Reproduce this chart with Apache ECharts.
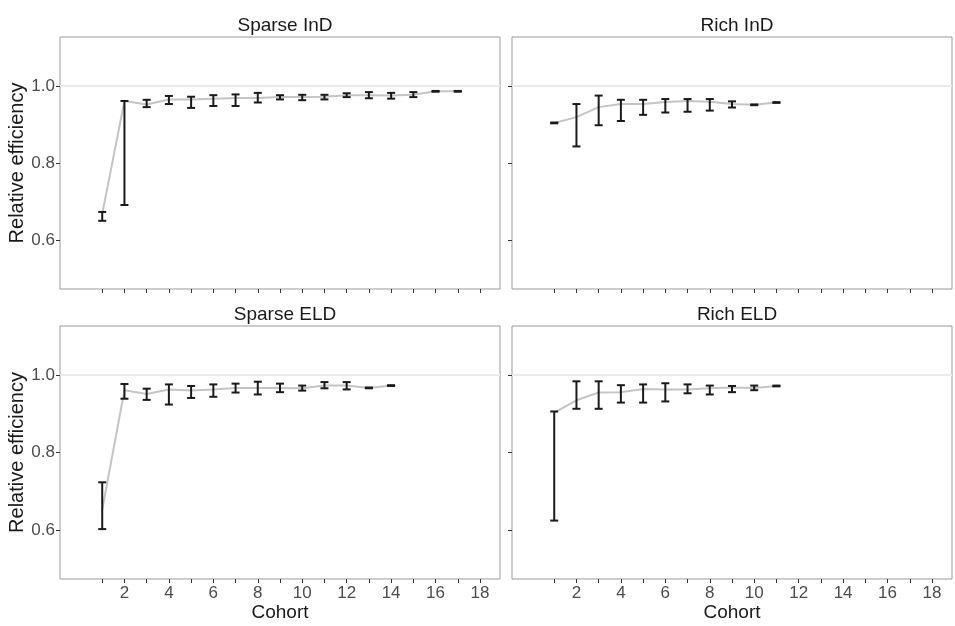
<!DOCTYPE html>
<html>
<head>
<meta charset="utf-8">
<script src="https://cdn.jsdelivr.net/npm/echarts@6/dist/echarts.min.js"></script>
<style>
html,body{margin:0;padding:0;background:#fff;}
#chart{width:955px;height:626px;}
</style>
</head>
<body>
<div id="chart"></div>
<script>
// panel titles
var panelNames = ['Sparse InD', 'Rich InD', 'Sparse ELD', 'Rich ELD'];

// Sparse InD
var sparseInDCohort = [1,2,3,4,5,6,7,8,9,10,11,12,13,14,15,16,17];
var sparseInDMed = [0.668,0.961,0.952,0.965,0.965,0.967,0.969,0.969,0.971,0.971,0.972,0.976,0.976,0.975,0.977,0.986,0.986];
var sparseInDLo  = [0.650,0.691,0.945,0.953,0.943,0.948,0.948,0.957,0.965,0.963,0.965,0.971,0.968,0.967,0.971,0.985,0.985];
var sparseInDHi  = [0.673,0.961,0.964,0.974,0.972,0.976,0.978,0.982,0.976,0.977,0.977,0.981,0.984,0.982,0.984,0.987,0.987];

// Rich InD
var richInDCohort = [1,2,3,4,5,6,7,8,9,10,11];
var richInDMed = [0.904,0.919,0.945,0.953,0.953,0.958,0.961,0.959,0.953,0.951,0.957];
var richInDLo  = [0.903,0.843,0.898,0.909,0.925,0.931,0.933,0.936,0.944,0.950,0.956];
var richInDHi  = [0.905,0.953,0.975,0.964,0.964,0.966,0.966,0.966,0.960,0.952,0.958];

// Sparse ELD
var sparseELDCohort = [1,2,3,4,5,6,7,8,9,10,11,12,13,14];
var sparseELDMed = [0.652,0.961,0.951,0.963,0.960,0.963,0.967,0.967,0.967,0.966,0.973,0.973,0.967,0.973];
var sparseELDLo  = [0.602,0.939,0.936,0.924,0.941,0.944,0.955,0.950,0.956,0.960,0.966,0.963,0.966,0.972];
var sparseELDHi  = [0.723,0.977,0.965,0.976,0.972,0.976,0.978,0.983,0.978,0.973,0.982,0.982,0.968,0.974];

// Rich ELD
var richELDCohort = [1,2,3,4,5,6,7,8,9,10,11];
var richELDMed = [0.903,0.935,0.955,0.956,0.964,0.963,0.963,0.966,0.968,0.967,0.972];
var richELDLo  = [0.624,0.913,0.913,0.929,0.929,0.932,0.953,0.950,0.956,0.961,0.971];
var richELDHi  = [0.906,0.984,0.984,0.974,0.976,0.979,0.976,0.973,0.972,0.973,0.973];

var xTicks = [1,2,3,4,5,6,7,8,9,10,11,12,13,14,15,16,17,18];
var xLabels = [2,4,6,8,10,12,14,16,18];
var yTicks = [0.6,0.8,1.0];
var refLine = 1.0;

var panels = [
  {c: sparseInDCohort, m: sparseInDMed, lo: sparseInDLo, hi: sparseInDHi},
  {c: richInDCohort, m: richInDMed, lo: richInDLo, hi: richInDHi},
  {c: sparseELDCohort, m: sparseELDMed, lo: sparseELDLo, hi: sparseELDHi},
  {c: richELDCohort, m: richELDMed, lo: richELDLo, hi: richELDHi}
];

var gridPos = [
  {left: 60, top: 37, width: 440, height: 252},
  {left: 512, top: 37, width: 440, height: 252},
  {left: 60, top: 326, width: 440, height: 253},
  {left: 512, top: 326, width: 440, height: 253}
];

var font = 'Liberation Sans, Arial, sans-serif';
var chart = echarts.init(document.getElementById('chart'));

function errBar(params, api){
  var x = api.value(0);
  var a = api.coord([x, api.value(1)]);
  var b = api.coord([x, api.value(2)]);
  var w = 4;
  var st = {stroke: '#1a1a1a', lineWidth: 2};
  return {type: 'group', children: [
    {type: 'line', shape: {x1: a[0], y1: a[1], x2: b[0], y2: b[1]}, style: st},
    {type: 'line', shape: {x1: a[0]-w, y1: a[1], x2: a[0]+w, y2: a[1]}, style: st},
    {type: 'line', shape: {x1: b[0]-w, y1: b[1], x2: b[0]+w, y2: b[1]}, style: st}
  ]};
}

var grids = [], xAxes = [], yAxes = [], series = [], titles = [];
for (var i = 0; i < 4; i++) {
  var g = gridPos[i];
  grids.push({left: g.left, top: g.top, width: g.width, height: g.height, show: true,
    borderColor: '#999999', borderWidth: 1, backgroundColor: '#fff'});
  titles.push({text: panelNames[i], left: g.left + g.width/2, top: g.top - 26, textAlign: 'center',
    textStyle: {fontFamily: font, fontSize: 19, fontWeight: 'normal', color: '#1a1a1a'}});
  var bottomRow = i >= 2;
  var leftCol = i % 2 == 0;
  xAxes.push({type: 'value', gridIndex: i, min: -0.9, max: 18.9,
    name: bottomRow ? 'Cohort' : '', nameLocation: 'middle', nameGap: 24,
    nameTextStyle: {fontFamily: font, fontSize: 19, color: '#1a1a1a'},
    axisLine: {show: false, onZero: false}, splitLine: {show: false},
    axisTick: {show: true, length: 4, customValues: xTicks, lineStyle: {color: '#333', width: 1}},
    axisLabel: {show: bottomRow, customValues: xLabels, margin: 6,
      fontFamily: font, fontSize: 17, color: '#4d4d4d'}
  });
  yAxes.push({type: 'value', gridIndex: i, min: 0.473, max: 1.127,
    name: leftCol ? 'Relative efficiency' : '', nameLocation: 'middle', nameGap: 28,
    nameTextStyle: {fontFamily: font, fontSize: 20, color: '#1a1a1a'},
    axisLine: {show: false, onZero: false}, splitLine: {show: false},
    axisTick: {show: true, length: 4, customValues: yTicks, lineStyle: {color: '#333', width: 1}},
    axisLabel: {show: leftCol, customValues: yTicks, margin: 5,
      fontFamily: font, fontSize: 17, color: '#4d4d4d',
      formatter: function(v){ return v.toFixed(1); }}
  });
  var p = panels[i];
  var lineData = [], barData = [];
  for (var k = 0; k < p.c.length; k++) {
    lineData.push([p.c[k], p.m[k]]);
    barData.push([p.c[k], p.lo[k], p.hi[k]]);
  }
  series.push({type: 'line', xAxisIndex: i, yAxisIndex: i, data: lineData,
    symbol: 'none', silent: true, z: 2,
    lineStyle: {color: '#c4c4c4', width: 2},
    markLine: {silent: true, symbol: 'none', label: {show: false},
      lineStyle: {color: '#ebebeb', width: 2, type: 'solid'},
      data: [{yAxis: refLine}]}
  });
  series.push({type: 'custom', xAxisIndex: i, yAxisIndex: i, data: barData,
    renderItem: errBar, encode: {x: 0, y: [1, 2]}, z: 3, silent: true});
}

chart.setOption({
  animation: false,
  backgroundColor: '#fff',
  title: titles,
  grid: grids,
  xAxis: xAxes,
  yAxis: yAxes,
  series: series
});
</script>
</body>
</html>
